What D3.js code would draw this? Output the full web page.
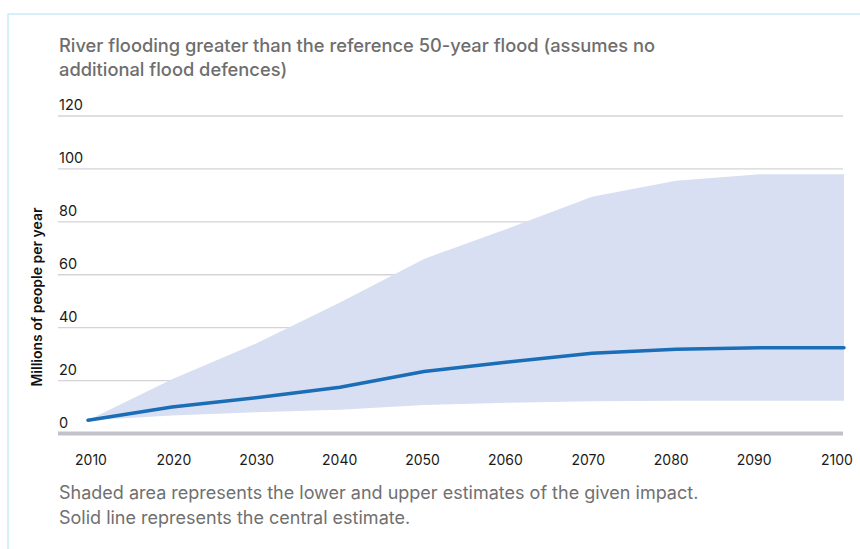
<!DOCTYPE html>
<html><head><meta charset="utf-8">
<script src="https://cdn.jsdelivr.net/npm/d3@7/dist/d3.min.js"></script>
<style>
html,body{margin:0;padding:0;background:#fff;}
svg{display:block;font-family:Inter,"Open Sans",sans-serif;}
</style></head>
<body>
<svg id="chart" width="860" height="549"></svg>
<script>
const years = [2010,2020,2030,2040,2050,2060,2070,2080,2090,2100];
const upper = [5,20.5,34,49.5,66,77.5,89.5,95.5,98,98];
const central = [5,10,13.5,17.5,23.4,27,30.3,31.8,32.4,32.4];
const lower = [5,6.8,8,9,10.8,11.6,12.2,12.4,12.4,12.4];
const yTicks = [0,20,40,60,80,100,120];
const titleLines = ["River flooding greater than the reference 50-year flood (assumes no","additional flood defences)"];
const noteLines = ["Shaded area represents the lower and upper estimates of the given impact.","Solid line represents the central estimate."];
const yTitle = "Millions of people per year";

const svg = d3.select("#chart");
// frame
svg.append("path").attr("d","M8,549 V14 H860").attr("fill","none").attr("stroke","#c8ecf7").attr("stroke-width",1.5);

const x = d3.scaleLinear().domain([2010,2100]).range([88,844]);
const y = d3.scaleLinear().domain([0,120]).range([433.5,116]);
const xl = d3.scalePoint().domain(years).range([91,837]);
const gridL = 58, gridR = 843;

// title
svg.append("g").selectAll("text").data(titleLines).join("text")
  .attr("x",59).attr("y",(d,i)=>52+i*24)
  .attr("fill","#6e6e6e").attr("font-size",18.3).attr("font-weight",500)
  .text(d=>d);

// gridlines
svg.append("g").selectAll("line").data(yTicks.filter(d=>d>0)).join("line")
  .attr("x1",gridL).attr("x2",gridR).attr("y1",d=>y(d)).attr("y2",d=>y(d))
  .attr("stroke","#d4d4d8").attr("stroke-width",1.3);
// tick labels
svg.append("g").selectAll("text").data(yTicks).join("text")
  .attr("x",59).attr("y",d=>y(d)-6)
  .attr("font-size",14.5).attr("fill","#1a1a1a").text(d=>d);

// area
const area = d3.area().x((d,i)=>x(years[i])).y0((d,i)=>y(lower[i])).y1((d,i)=>y(upper[i]));
svg.append("path").datum(years).attr("d",area).attr("fill","#d8dff2");

// central line
const line = d3.line().x((d,i)=>x(years[i])).y(d=>y(d));
svg.append("path").datum(central).attr("d",line).attr("fill","none")
  .attr("stroke","#1a6db7").attr("stroke-width",3.5).attr("stroke-linecap","round");

// baseline
svg.append("line").attr("x1",gridL).attr("x2",gridR).attr("y1",y(0)).attr("y2",y(0))
  .attr("stroke","#c3c2ca").attr("stroke-width",4);

// x labels
svg.append("g").selectAll("text").data(years).join("text")
  .attr("x",d=>xl(d)).attr("y",465).attr("text-anchor","middle")
  .attr("font-size",14).attr("fill","#1a1a1a").text(d=>d);

// y title
svg.append("text").attr("transform","translate(42,297) rotate(-90)")
  .attr("text-anchor","middle").attr("font-size",14).attr("font-weight",600)
  .attr("fill","#111").text(yTitle);

// notes
svg.append("g").selectAll("text").data(noteLines).join("text")
  .attr("x",59).attr("y",(d,i)=>499+i*25)
  .attr("fill","#707070").attr("font-size",18).text(d=>d);
</script>
</body></html>
